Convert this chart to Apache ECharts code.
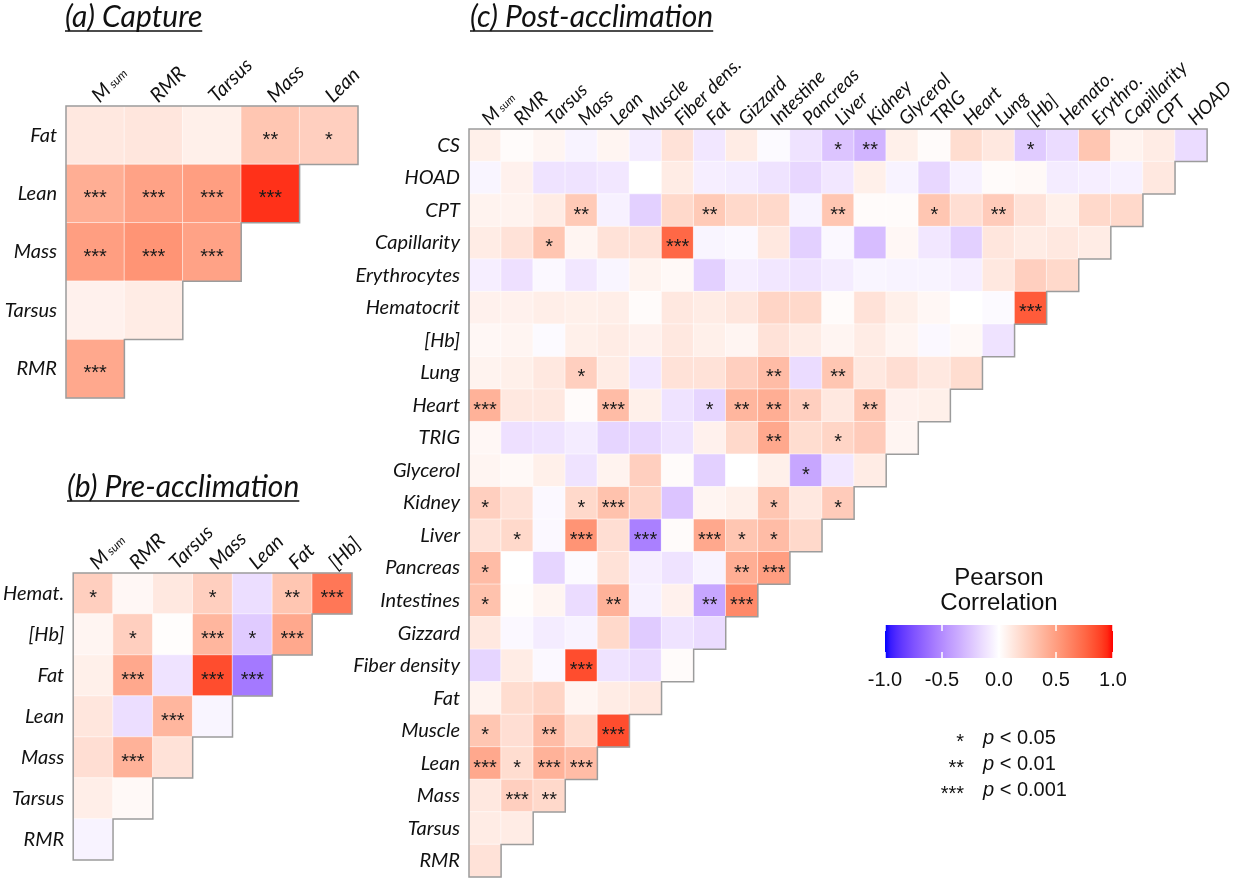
<!DOCTYPE html>
<html>
<head>
<meta charset="utf-8">
<script src="https://cdn.jsdelivr.net/npm/echarts@6/dist/echarts.min.js"></script>
<style>
  html, body { margin: 0; padding: 0; background: #fff; }
  #chart { width: 1237px; height: 880px; }
</style>
</head>
<body>
<div id="chart"></div>
<script>
// ---------- (a) Capture ----------
const capRows = ['Fat', 'Lean', 'Mass', 'Tarsus', 'RMR'];
const capCols = ['Msum', 'RMR', 'Tarsus', 'Mass', 'Lean'];
const capR = [
  [0.12, 0.13, 0.08, 0.30, 0.25],
  [0.42, 0.48, 0.50, 0.93],
  [0.50, 0.55, 0.48],
  [0.07, 0.10],
  [0.45]
];
// number of asterisks per cell (1: p<0.05, 2: p<0.01, 3: p<0.001)
const capStars = ['00021', '3333', '333', '00', '3'];

// ---------- (b) Pre-acclimation ----------
const preRows = ['Hemat.', '[Hb]', 'Fat', 'Lean', 'Mass', 'Tarsus', 'RMR'];
const preCols = ['Msum', 'RMR', 'Tarsus', 'Mass', 'Lean', 'Fat', '[Hb]'];
const preR = [
  [0.25, 0.04, 0.12, 0.25, -0.14, 0.30, 0.68],
  [0.05, 0.25, 0.01, 0.38, -0.22, 0.45],
  [0.08, 0.45, -0.12, 0.85, -0.58],
  [0.13, -0.14, 0.38, -0.04],
  [0.17, 0.40, 0.15],
  [0.09, 0.03],
  [-0.05]
];
const preStars = ['1001023', '010313', '03033', '0030', '030', '00', '0'];

// ---------- (c) Post-acclimation ----------
const postRows = ['CS', 'HOAD', 'CPT', 'Capillarity', 'Erythrocytes', 'Hematocrit', '[Hb]', 'Lung',
  'Heart', 'TRIG', 'Glycerol', 'Kidney', 'Liver', 'Pancreas', 'Intestines', 'Gizzard',
  'Fiber density', 'Fat', 'Muscle', 'Lean', 'Mass', 'Tarsus', 'RMR'];
const postCols = ['Msum', 'RMR', 'Tarsus', 'Mass', 'Lean', 'Muscle', 'Fiber dens.', 'Fat', 'Gizzard',
  'Intestine', 'Pancreas', 'Liver', 'Kidney', 'Glycerol', 'TRIG', 'Heart', 'Lung', '[Hb]',
  'Hemato.', 'Erythro.', 'Capillarity', 'CPT', 'HOAD'];
const postR = [
  [0.08, 0.02, 0.05, -0.05, 0.05, -0.08, 0.15, -0.10, 0.10, -0.02, -0.12, -0.25, -0.32, 0.08, 0.02, 0.18, 0.12, -0.22, -0.15, 0.30, 0.06, 0.10, -0.15],
  [-0.04, 0.07, -0.12, -0.12, -0.10, 0.00, 0.10, -0.07, -0.08, -0.12, -0.17, -0.10, 0.08, -0.05, -0.17, -0.06, 0.02, 0.03, -0.08, -0.07, -0.06, 0.12],
  [0.06, 0.06, 0.10, 0.28, -0.06, -0.20, 0.20, 0.28, 0.20, 0.20, -0.05, 0.30, 0.02, 0.02, 0.30, 0.17, 0.27, 0.15, 0.08, 0.20, 0.20],
  [0.10, 0.15, 0.30, 0.05, 0.15, 0.15, 0.75, -0.04, -0.03, 0.12, -0.20, -0.03, -0.28, 0.04, -0.10, -0.20, 0.13, 0.10, 0.12, 0.10],
  [-0.07, -0.13, -0.03, -0.10, -0.04, 0.06, 0.03, -0.20, -0.07, -0.10, -0.12, -0.08, -0.04, -0.05, -0.05, -0.07, 0.12, 0.25, 0.20],
  [0.07, 0.07, 0.09, 0.08, 0.09, 0.02, 0.12, 0.10, 0.13, 0.22, 0.20, 0.02, 0.15, 0.08, 0.04, 0.00, -0.02, 0.80],
  [0.04, 0.05, -0.02, 0.08, 0.10, 0.07, 0.12, 0.08, 0.05, 0.15, 0.10, 0.05, 0.10, 0.05, -0.03, 0.03, -0.12],
  [0.06, 0.08, 0.12, 0.25, 0.10, -0.10, 0.15, 0.15, 0.25, 0.35, -0.15, 0.30, 0.12, 0.17, 0.12, 0.18],
  [0.40, 0.12, 0.12, 0.02, 0.35, 0.08, -0.12, -0.18, 0.38, 0.42, 0.25, 0.12, 0.30, 0.07, 0.08],
  [0.04, -0.13, -0.12, -0.08, -0.18, -0.17, -0.12, 0.07, 0.20, 0.45, 0.18, 0.22, 0.27, 0.05],
  [0.05, 0.03, 0.08, -0.12, 0.06, 0.25, 0.02, -0.20, 0.00, 0.08, -0.38, -0.10, 0.10],
  [0.25, 0.15, -0.03, 0.20, 0.32, 0.22, -0.25, 0.05, 0.08, 0.30, 0.12, 0.27],
  [0.15, 0.20, -0.03, 0.55, 0.17, -0.55, 0.02, 0.45, 0.30, 0.35, 0.20],
  [0.35, 0.00, -0.18, -0.02, 0.15, -0.07, -0.12, -0.05, 0.42, 0.50],
  [0.32, 0.01, 0.05, -0.15, 0.40, -0.06, 0.07, -0.38, 0.60],
  [0.12, -0.03, -0.08, -0.05, 0.20, -0.22, -0.12, -0.15],
  [-0.18, 0.10, -0.03, 0.85, -0.12, -0.15, 0.02],
  [0.06, 0.18, 0.22, 0.05, 0.10, 0.12],
  [0.30, 0.17, 0.35, 0.18, 0.85],
  [0.45, 0.18, 0.40, 0.35],
  [0.12, 0.25, 0.20],
  [0.10, 0.10],
  [0.15]
];
const postStars = [
  '00000000000120000100000',
  '0000000000000000000000',
  '000200020002001020000',
  '00100030000000000000',
  '0000000000000000000',
  '000000000000000003',
  '00000000000000000',
  '0001000002020000',
  '300030012210200',
  '00000000020100',
  '0000000000100',
  '100130000101',
  '01030303110',
  '1000000023',
  '100020023',
  '00000000',
  '0003000',
  '000000',
  '10203',
  '3133',
  '032',
  '00',
  '0'
];

// colour bar ticks
const legendTicks = [-1.0, -0.5, 0.0, 0.5, 1.0];
const pLegend = [['*', '0.05'], ['**', '0.01'], ['***', '0.001']];

// ---------- diverging blue-white-red scale, interpolated in CIELAB ----------
function toLin(c) { c /= 255; return c <= 0.04045 ? c / 12.92 : Math.pow((c + 0.055) / 1.055, 2.4); }
function fromLin(c) {
  const v = c <= 0.0031308 ? 12.92 * c : 1.055 * Math.pow(c, 1 / 2.4) - 0.055;
  return Math.round(Math.max(0, Math.min(1, v)) * 255);
}
const Xn = 0.95047, Yn = 1.0, Zn = 1.08883;
function fLab(t) { return t > 0.008856 ? Math.cbrt(t) : 7.787 * t + 16 / 116; }
function fInv(t) { return t > 0.206893 ? t * t * t : (t - 16 / 116) / 7.787; }
function rgb2lab(rgb) {
  const R = toLin(rgb[0]), G = toLin(rgb[1]), B = toLin(rgb[2]);
  const X = (0.4124564 * R + 0.3575761 * G + 0.1804375 * B) / Xn;
  const Y = (0.2126729 * R + 0.7151522 * G + 0.0721750 * B) / Yn;
  const Z = (0.0193339 * R + 0.1191920 * G + 0.9503041 * B) / Zn;
  const fx = fLab(X), fy = fLab(Y), fz = fLab(Z);
  return [116 * fy - 16, 500 * (fx - fy), 200 * (fy - fz)];
}
function lab2hex(lab) {
  const fy = (lab[0] + 16) / 116, fx = fy + lab[1] / 500, fz = fy - lab[2] / 200;
  const X = fInv(fx) * Xn, Y = fInv(fy) * Yn, Z = fInv(fz) * Zn;
  const R = 3.2404542 * X - 1.5371385 * Y - 0.4985314 * Z;
  const G = -0.9692660 * X + 1.8760108 * Y + 0.0415560 * Z;
  const B = 0.0556434 * X - 0.2040259 * Y + 1.0572252 * Z;
  return '#' + [R, G, B].map(c => fromLin(c).toString(16).padStart(2, '0')).join('');
}
const LAB_LOW = rgb2lab([0, 0, 255]);
const LAB_MID = rgb2lab([255, 255, 255]);
const LAB_HIGH = rgb2lab([255, 0, 0]);
function corrColor(v) {
  const end = v < 0 ? LAB_LOW : LAB_HIGH;
  const t = Math.min(1, Math.abs(v));
  return lab2hex(LAB_MID.map((m, k) => m + (end[k] - m) * t));
}
const STEPS = 40;
const scaleColors = [];
for (let k = 0; k <= STEPS; k++) scaleColors.push(corrColor(-1 + 2 * k / STEPS));

// ---------- helpers ----------
const FONT = 'Lato';
function cells(R) {
  const out = [];
  R.forEach((row, i) => row.forEach((v, j) => out.push([j, i, v])));
  return out;
}
function xLabel(size) {
  return {
    rotate: -45, interval: 0, margin: 7, color: '#111',
    fontFamily: FONT, fontStyle: 'italic', fontSize: size,
    formatter: v => v === 'Msum' ? '{m|M}{s|sum}' : v,
    rich: {
      m: { fontFamily: FONT, fontStyle: 'italic', fontSize: size, color: '#111' },
      s: { fontFamily: FONT, fontStyle: 'italic', fontSize: Math.round(size * 0.6), color: '#111', padding: [Math.round(size * 0.2), 0, 0, 3] }
    }
  };
}
function panelAxes(gi, rows, cols, xSize, ySize) {
  return {
    x: {
      type: 'category', gridIndex: gi, data: cols, position: 'top',
      axisLine: { show: false }, axisTick: { show: false }, splitLine: { show: false },
      axisLabel: xLabel(xSize)
    },
    y: {
      type: 'category', gridIndex: gi, data: rows, inverse: true,
      axisLine: { show: false }, axisTick: { show: false }, splitLine: { show: false },
      axisLabel: { margin: 9, color: '#111', fontFamily: FONT, fontStyle: 'italic', fontSize: ySize }
    }
  };
}
function heatSeries(gi, R, stars) {
  return {
    type: 'heatmap', xAxisIndex: gi, yAxisIndex: gi,
    data: cells(R),
    itemStyle: { borderColor: 'rgba(255,255,255,0.55)', borderWidth: 1 },
    label: {
      show: true, color: '#1a1a1a', fontFamily: 'Liberation Sans', fontSize: 20,
      offset: [0, 5],
      formatter: p => '*'.repeat(Number(stars[p.value[1]][p.value[0]]))
    },
    emphasis: { disabled: true },
    silent: true
  };
}
// staircase outline of the lower-triangle layout
function outlineSeries(gi, R) {
  return {
    type: 'custom', xAxisIndex: gi, yAxisIndex: gi, data: [[0, 0]], z: 5, silent: true,
    renderItem: (params, api) => {
      const sz = api.size([1, 1]);
      const w = sz[0], h = sz[1];
      const c0 = api.coord([0, 0]);
      const L = c0[0] - w / 2;
      const pts = [[L, c0[1] - h / 2]];
      R.forEach((row, i) => {
        const c = api.coord([row.length - 1, i]);
        pts.push([c[0] + w / 2, c[1] - h / 2]);
        pts.push([c[0] + w / 2, c[1] + h / 2]);
      });
      const last = api.coord([0, R.length - 1]);
      pts.push([L, last[1] + h / 2]);
      return {
        type: 'polygon', shape: { points: pts },
        style: { fill: null, stroke: '#9c9c9c', lineWidth: 1.5 }
      };
    }
  };
}

const A = panelAxes(0, capRows, capCols, 20, 20);
const B = panelAxes(1, preRows, preCols, 20, 20);
const C = panelAxes(2, postRows, postCols, 19, 20);

// colour bar axes
const barAxisBase = {
  type: 'value', gridIndex: 3, min: legendTicks[0], max: legendTicks[legendTicks.length - 1],
  interval: 0.5, z: 10, axisLine: { show: false }, splitLine: { show: false },
  axisTick: { show: true, inside: true, length: 6, lineStyle: { color: '#ffffff', width: 1.5 } }
};

// titles with underline
const TITLE_SIZE = 30;
const measureCtx = document.createElement('canvas').getContext('2d');
function titleGraphic(text, x, baseline) {
  const font = 'italic ' + TITLE_SIZE + 'px ' + FONT;
  measureCtx.font = font;
  const w = measureCtx.measureText(text).width;
  return [
    { type: 'text', x: x, y: baseline - 10, style: { text, font, fill: '#111', verticalAlign: 'middle' } },
    { type: 'line', shape: { x1: x, y1: baseline + 4, x2: x + w, y2: baseline + 4 }, style: { stroke: '#111', lineWidth: 1.5 } }
  ];
}

const graphics = [].concat(
  titleGraphic('(a) Capture', 65, 27),
  titleGraphic('(b) Pre-acclimation', 67, 497),
  titleGraphic('(c) Post-acclimation', 470, 27),
  [
    { type: 'text', x: 999, y: 578, style: { text: 'Pearson', font: '24px "Liberation Sans"', fill: '#111', align: 'center', verticalAlign: 'middle' } },
    { type: 'text', x: 999, y: 603, style: { text: 'Correlation', font: '24px "Liberation Sans"', fill: '#111', align: 'center', verticalAlign: 'middle' } }
  ],
  pLegend.map((row, k) => ({
    type: 'text', x: 964, y: 742 + k * 26,
    style: { text: row[0], font: '20px "Liberation Sans"', fill: '#111', align: 'right', verticalAlign: 'middle' }
  })),
  pLegend.map((row, k) => ({
    type: 'text', x: 983, y: 738 + k * 26,
    style: {
      text: '{p|p} < ' + row[1], font: '20px "Liberation Sans"', fill: '#111', verticalAlign: 'middle',
      rich: { p: { fontStyle: 'italic', fontFamily: 'Liberation Sans', fontSize: 20, fill: '#111' } }
    }
  }))
);

const option = {
  backgroundColor: '#ffffff',
  animation: false,
  grid: [
    { left: 66, top: 106, width: 292, height: 292 },
    { left: 65, top: 573, width: 287, height: 287 },
    { left: 469, top: 129, width: 749, height: 748 },
    { left: 885, top: 625, width: 228, height: 33 }
  ],
  xAxis: [
    A.x, B.x, C.x,
    Object.assign({}, barAxisBase, {
      position: 'bottom',
      axisLabel: { margin: 12, color: '#111', fontFamily: 'Liberation Sans', fontSize: 20, formatter: v => v.toFixed(1) }
    }),
    Object.assign({}, barAxisBase, { position: 'top', axisLabel: { show: false } })
  ],
  yAxis: [
    A.y, B.y, C.y,
    { type: 'value', gridIndex: 3, min: 0, max: 1, show: false }
  ],
  visualMap: {
    show: false, type: 'continuous', min: -1, max: 1, dimension: 2,
    seriesIndex: [0, 1, 2], inRange: { color: scaleColors }
  },
  series: [
    heatSeries(0, capR, capStars),
    heatSeries(1, preR, preStars),
    heatSeries(2, postR, postStars),
    outlineSeries(0, capR),
    outlineSeries(1, preR),
    outlineSeries(2, postR),
    {
      type: 'custom', xAxisIndex: 3, yAxisIndex: 3, z: 1, silent: true,
      data: [[legendTicks[0], 0]],
      renderItem: (params, api) => {
        const p0 = api.coord([legendTicks[0], 0]);
        const p1 = api.coord([legendTicks[legendTicks.length - 1], 1]);
        const stops = scaleColors.map((c, k) => ({ offset: k / STEPS, color: c }));
        return {
          type: 'rect',
          shape: { x: p0[0], y: p1[1], width: p1[0] - p0[0], height: p0[1] - p1[1] },
          style: { fill: new echarts.graphic.LinearGradient(0, 0, 1, 0, stops) }
        };
      }
    }
  ],
  graphic: graphics
};

const chart = echarts.init(document.getElementById('chart'), null, { renderer: 'canvas' });
chart.setOption(option);
</script>
</body>
</html>
